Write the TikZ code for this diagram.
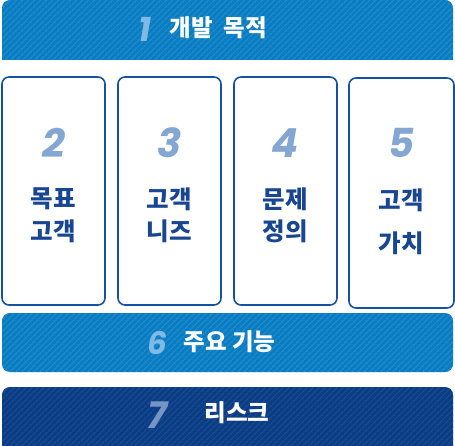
\documentclass[tikz,border=0pt]{standalone}
\usepackage{fontspec}
\setmainfont{Noto Sans CJK KR}
\newfontfamily\numfont{Poppins}
\usetikzlibrary{patterns.meta}
\definecolor{barblue}{RGB}{10,124,194}
\definecolor{barstripe}{RGB}{32,140,206}
\definecolor{riskblue}{RGB}{11,60,132}
\definecolor{riskstripe}{RGB}{26,76,148}
\definecolor{cardline}{RGB}{22,82,164}
\definecolor{cardtext}{RGB}{24,70,146}
\definecolor{cardnum}{RGB}{132,166,210}
\definecolor{barnum}{RGB}{128,186,228}
\definecolor{risknum}{RGB}{118,148,196}
\tikzset{
  bar/.style={fill=barblue, postaction={pattern={Lines[angle=45,distance=4pt,line width=1.3pt]}, pattern color=barstripe}},
  riskbar/.style={fill=riskblue, postaction={pattern={Lines[angle=45,distance=4pt,line width=1.3pt]}, pattern color=riskstripe}},
  card/.style={draw=cardline, line width=1.6pt, rounded corners=7pt, fill=white},
  cardnumber/.style={font=\numfont\bfseries\itshape\fontsize{40}{40}\selectfont, text=cardnum},
  cardlabel/.style={font=\bfseries\fontsize{24.5}{24.5}\selectfont, text=cardtext},
  barnumber/.style={font=\numfont\bfseries\itshape\fontsize{31}{31}\selectfont, text=barnum},
  barlabel/.style={font=\bfseries\fontsize{23.5}{23.5}\selectfont, text=white},
}
\newcommand{\card}[4]{\node[card, minimum width=#3, minimum height=#4] (#1) at (#2) {};}

\begin{document}
\begin{tikzpicture}[x=1pt,y=-1pt]
\useasboundingbox (0,0) rectangle (455,446);
% top bar
\path[bar] (2,60) -- (2,8) arc[start angle=180,end angle=270,radius=8] -- (445,0) arc[start angle=270,end angle=360,radius=8] -- (453,60) -- cycle;
\node[barnumber, font=\numfont\bfseries\itshape\fontsize{34}{34}\selectfont] (n1) at (145,29) {1};
\node[barlabel, anchor=west] (goal) at (166,28) {개발 \ 목적};
% cards
\card{c2}{53.5,191}{103}{228}
\card{c3}{169.5,191}{103}{228}
\card{c4}{285.5,191}{103}{228}
\card{c5}{401.5,193}{105}{230}
\node[cardnumber] (n2) at (53.5,143) {2};
\node[cardnumber] (n3) at (169.5,143) {3};
\node[cardnumber] (n4) at (285.5,143) {4};
\node[cardnumber] (n5) at (401.5,143) {5};
\node[cardlabel] (t2a) at (53.5,199) {목표};
\node[cardlabel] (t2b) at (53.5,231) {고객};
\node[cardlabel] (t3a) at (169.5,199) {고객};
\node[cardlabel] (t3b) at (169.5,231) {니즈};
\node[cardlabel] (t4a) at (285.5,199) {문제};
\node[cardlabel] (t4b) at (285.5,231) {정의};
\node[cardlabel] (t5a) at (401.5,200) {고객};
\node[cardlabel] (t5b) at (401.5,243) {가치};
% feature bar
\path[bar, rounded corners=8pt] (2,313) rectangle (453,372);
\node[barnumber] (n6) at (157,343) {6};
\node[barlabel, anchor=west] (feat) at (180,342) {주요 기능};
% risk bar
\path[riskbar, rounded corners=8pt] (2,387) rectangle (453,456);
\node[barnumber, text=risknum, font=\numfont\bfseries\itshape\fontsize{37}{37}\selectfont] (n7) at (157,415) {7};
\node[barlabel, anchor=west] (risk) at (201,413) {리스크};
\end{tikzpicture}
\end{document}
